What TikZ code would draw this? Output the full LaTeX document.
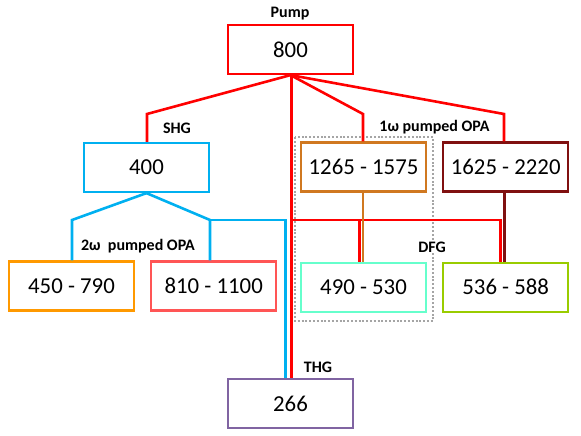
\documentclass[tikz,border=0pt]{standalone}
\usepackage{fontspec}
\setmainfont{Carlito}
\usepackage{xcolor}
\usepackage{tikz}
\usetikzlibrary{positioning}
\definecolor{pumpred}{RGB}{255,0,0}
\definecolor{shgblue}{RGB}{0,176,240}
\definecolor{sigorange}{RGB}{208,120,32}
\definecolor{idlerdark}{RGB}{128,16,16}
\definecolor{visorange}{RGB}{255,153,0}
\definecolor{irred}{RGB}{255,85,85}
\definecolor{dfgcyan}{RGB}{102,255,204}
\definecolor{dfggreen}{RGB}{153,204,0}
\definecolor{thgviolet}{RGB}{128,100,162}
\definecolor{framegray}{RGB}{165,165,165}
\tikzset{band/.style={draw=#1,line width=2.2pt,fill=white,minimum width=125pt,minimum height=49pt,
    inner sep=0pt,font=\fontsize{22.8}{27}\selectfont},
  lab/.style={font=\bfseries\fontsize{16}{19}\selectfont,inner sep=0.5pt},
  beam/.style={draw=#1,line width=2.6pt},
  group/.style={draw=framegray,line width=2pt,dash pattern=on 2pt off 1.8pt}}

\begin{document}
\begin{tikzpicture}[x=1pt,y=-1pt]
\useasboundingbox (0,0) rectangle (581,436);
% boxes
\node[band=pumpred] (pump) at (290.5,49.5) {800};
\node[band=shgblue] (shg) at (146.5,167.5) {400};
\node[band=sigorange] (opa1) at (363.5,167) {1265 - 1575};
\node[band=idlerdark,right=15pt of opa1] (opa2) {1625 - 2220};
\node[band=visorange] (vis) at (71.5,286) {450 - 790};
\node[band=irred,right=15pt of vis] (ir) {810 - 1100};
\node[band=dfgcyan,below=69pt of opa1] (dfg1) {490 - 530};
\node[band=dfggreen,right=15pt of dfg1] (dfg2) {536 - 588};
\node[band=thgviolet] (thg) at (290.5,403.5) {266};
\draw[group] ([xshift=-5pt,yshift=4pt]opa1.north west) rectangle ([xshift=6pt,yshift=-8pt]dfg1.south east);
% pump beams
\coordinate (k1) at (147,114);
\coordinate (k2) at (363,114);
\coordinate (k3) at (504,114);
\coordinate (k4) at (291.5,220);
\coordinate (d1) at ([xshift=-4pt]dfg1.north);
\coordinate (d2) at ([xshift=-5pt]dfg2.north);
\draw[beam=pumpred] (pump.south) -- (k1) -- (k1 |- shg.north);
\draw[beam=pumpred] (pump.south) -- (k2) -- (k2 |- opa1.north);
\draw[beam=pumpred] (pump.south) -- (k3) -- (k3 |- opa2.north);
\draw[beam=pumpred] ([xshift=1pt]pump.south) -- ([xshift=1pt]thg.north);
\draw[beam=pumpred] (k4) -| (d2);
\draw[beam=pumpred] (d1) -- (d1 |- k4);
% OPA outputs
\draw[beam=sigorange] ([xshift=-0.5pt]opa1.south) -- ([xshift=-0.5pt]dfg1.north);
\draw[beam=idlerdark] ([xshift=-1pt]opa2.south) -- ([xshift=-1pt]dfg2.north);
% second harmonic beams
\coordinate (b1) at (72,220);
\coordinate (b2) at (210,220);
\coordinate (b3) at (285.5,220);
\draw[beam=shgblue] (shg.south) -- (b1) -- (b1 |- vis.north);
\draw[beam=shgblue] (shg.south) -- (b2) -- (b2 |- ir.north);
\draw[beam=shgblue] (b2) -- (b3) -- (b3 |- thg.north);
% labels
\node[lab] (lpump) at (290,14) {Pump};
\node[lab] (lshg) at (177,128) {SHG};
\node[lab] (lopa2) at (138,246) {2ω\ \ pumped OPA};
\node[lab] (lopa1) at (434.5,127) {1ω pumped OPA};
\node[lab,fill=white] (ldfg) at (432,247) {DFG};
\node[lab] (lthg) at (318,367) {THG};
\end{tikzpicture}
\end{document}
